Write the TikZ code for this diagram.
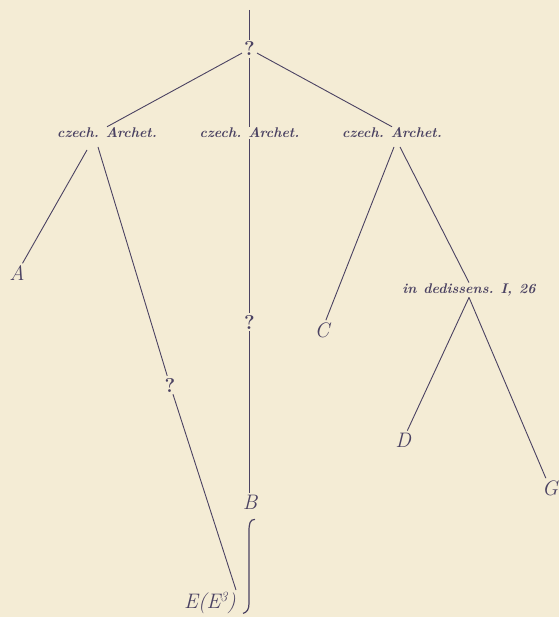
\documentclass[tikz,border=0pt]{standalone}
\usepackage{tikz}
\usetikzlibrary{calc}
\definecolor{ink}{HTML}{4B4262}
\definecolor{paper}{HTML}{F4ECD5}
\tikzset{
  archet/.style={font=\fontsize{14}{16}\selectfont\bfseries\itshape, text=ink, inner sep=1pt},
  sigl/.style={font=\fontsize{21}{24}\selectfont\itshape, text=ink, inner sep=2pt},
  qmark/.style={font=\fontsize{20}{22}\selectfont\bfseries, text=ink, inner sep=2pt},
  edge/.style={draw=ink, line width=0.9pt}
}
\newcommand{\wsp}{\hspace{0.5em}}

\begin{document}
\begin{tikzpicture}[x=1pt,y=-1pt]
  \fill[paper] (0,0) rectangle (559,617);
  \useasboundingbox (0,0) rectangle (559,617);

  % root
  \coordinate (top) at (249.5,10);
  \node[qmark] (q0) at (249.5,49) {?};

  % the three archetypes
  \node[archet] (a1) at (107,133) {czech.\wsp Archet.};
  \node[archet] (a2) at (249.5,133) {czech.\wsp Archet.};
  \node[archet] (a3) at (392,133) {czech.\wsp Archet.};
  \coordinate (f1a) at (87,150);
  \coordinate (f1b) at (98,147);
  \coordinate (f3a) at (394,147);
  \coordinate (f3b) at (400,147);

  % witnesses
  \node[sigl] (A) at (17,273) {A};
  \node[qmark] (q1) at (170,385) {?};
  \node[sigl] (E) at (210,603) {E(E\raisebox{7pt}{\fontsize{14}{14}\selectfont 3})};
  \coordinate (e3) at (236,590);
  \node[qmark] (q2) at (249.5,322) {?};
  \node[sigl] (B) at (250,502) {B};
  \node[sigl] (C) at (322,330) {C};
  \node[archet] (dd) at (469,290) {in\wsp dedissens.\wsp I,\wsp 26};
  \node[sigl] (D) at (403,440) {D};
  \node[sigl] (G) at (550,488) {G};

  \draw[edge] (top) -- (q0);
  \draw[edge] (q0) -- (a1.north);
  \draw[edge] (q0) -- (a2.north);
  \draw[edge] (q0) -- (a3.north);

  \draw[edge] (f1a) -- (A);
  \draw[edge] (f1b) -- (q1);
  \draw[edge] (q1) -- (e3);
  \draw[edge] (a2.south) -- (q2);
  \draw[edge] (q2) -- (q2 |- B.north);
  \draw[edge] (f3a) -- (C);
  \draw[edge] (f3b) -- (dd.north);
  \draw[edge] (dd.south) -- (D);
  \draw[edge] (dd.south) -- (G);

  % brace from B down to E(E3)
  \draw[ink, line width=1.2pt] ($(B.south)+(5,8)$) .. controls ($(B.south)+(0,8)$) and ($(B.south)+(-1,12)$) .. ($(B.south)+(-1,20)$)
    -- ($(B.south)+(-1,92)$) .. controls ($(B.south)+(-1,98)$) and ($(B.south)+(-3,101)$) .. ($(B.south)+(-7,102)$);
\end{tikzpicture}
\end{document}
